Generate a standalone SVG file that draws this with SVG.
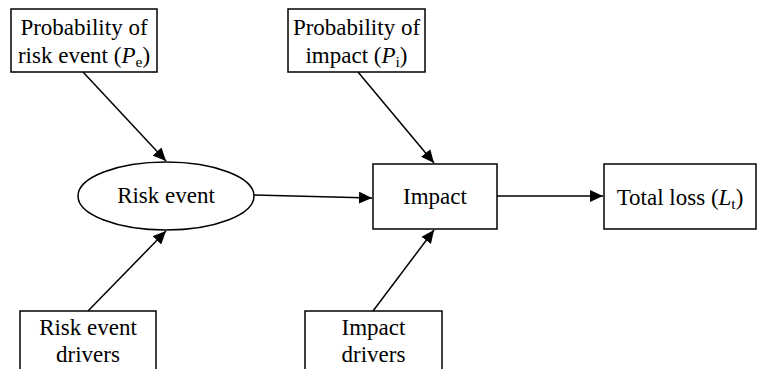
<svg xmlns="http://www.w3.org/2000/svg" width="759" height="369" viewBox="0 0 759 369">
<style>
.box{fill:#fff;stroke:#000;stroke-width:1.5}
.t{font-family:'Liberation Serif',serif;font-size:23px;fill:#000;text-anchor:middle}
.sub{font-size:15.5px}
.c{stroke:#000;stroke-width:1.5;fill:none;marker-end:url(#ah)}
</style>
<defs>
<marker id="ah" markerUnits="userSpaceOnUse" markerWidth="14" markerHeight="12" refX="13" refY="6" orient="auto">
<path d="M0,0 L13,6 L0,12 Z" fill="#000"/>
</marker>
</defs>
<g id="connectors">
<line class="c" x1="83" y1="72" x2="166" y2="161"/>
<line class="c" x1="88" y1="311" x2="166" y2="231"/>
<line class="c" x1="254" y1="195" x2="372" y2="198"/>
<line class="c" x1="358" y1="72" x2="434" y2="163"/>
<line class="c" x1="373" y1="311" x2="434" y2="230"/>
<line class="c" x1="497" y1="196" x2="603" y2="196"/>
</g>
<g id="prob-risk">
<rect class="box" x="11" y="9" width="146" height="63"/>
<text class="t" x="84" y="35">Probability of</text>
<text class="t" x="84" y="63">risk event (<tspan font-style="italic">P</tspan><tspan class="sub" dy="4">e</tspan><tspan dy="-4">)</tspan></text>
</g>
<g id="prob-impact">
<rect class="box" x="288" y="9" width="137" height="63"/>
<text class="t" x="356.5" y="35">Probability of</text>
<text class="t" x="356.5" y="63">impact (<tspan font-style="italic">P</tspan><tspan class="sub" dy="4">i</tspan><tspan dy="-4">)</tspan></text>
</g>
<g id="risk-event">
<ellipse class="box" cx="166" cy="196" rx="88" ry="34"/>
<text class="t" x="166" y="203">Risk event</text>
</g>
<g id="impact">
<rect class="box" x="373" y="164" width="124" height="65"/>
<text class="t" x="435" y="204">Impact</text>
</g>
<g id="total-loss">
<rect class="box" x="604" y="164" width="152" height="65"/>
<text class="t" x="680" y="205">Total loss (<tspan font-style="italic">L</tspan><tspan class="sub" dy="4">t</tspan><tspan dy="-4">)</tspan></text>
</g>
<g id="risk-drivers">
<rect class="box" x="20" y="311" width="136" height="70"/>
<text class="t" x="88" y="335">Risk event</text>
<text class="t" x="88" y="362">drivers</text>
</g>
<g id="impact-drivers">
<rect class="box" x="305" y="311" width="137" height="70"/>
<text class="t" x="373.5" y="335">Impact</text>
<text class="t" x="373.5" y="362">drivers</text>
</g>
</svg>
